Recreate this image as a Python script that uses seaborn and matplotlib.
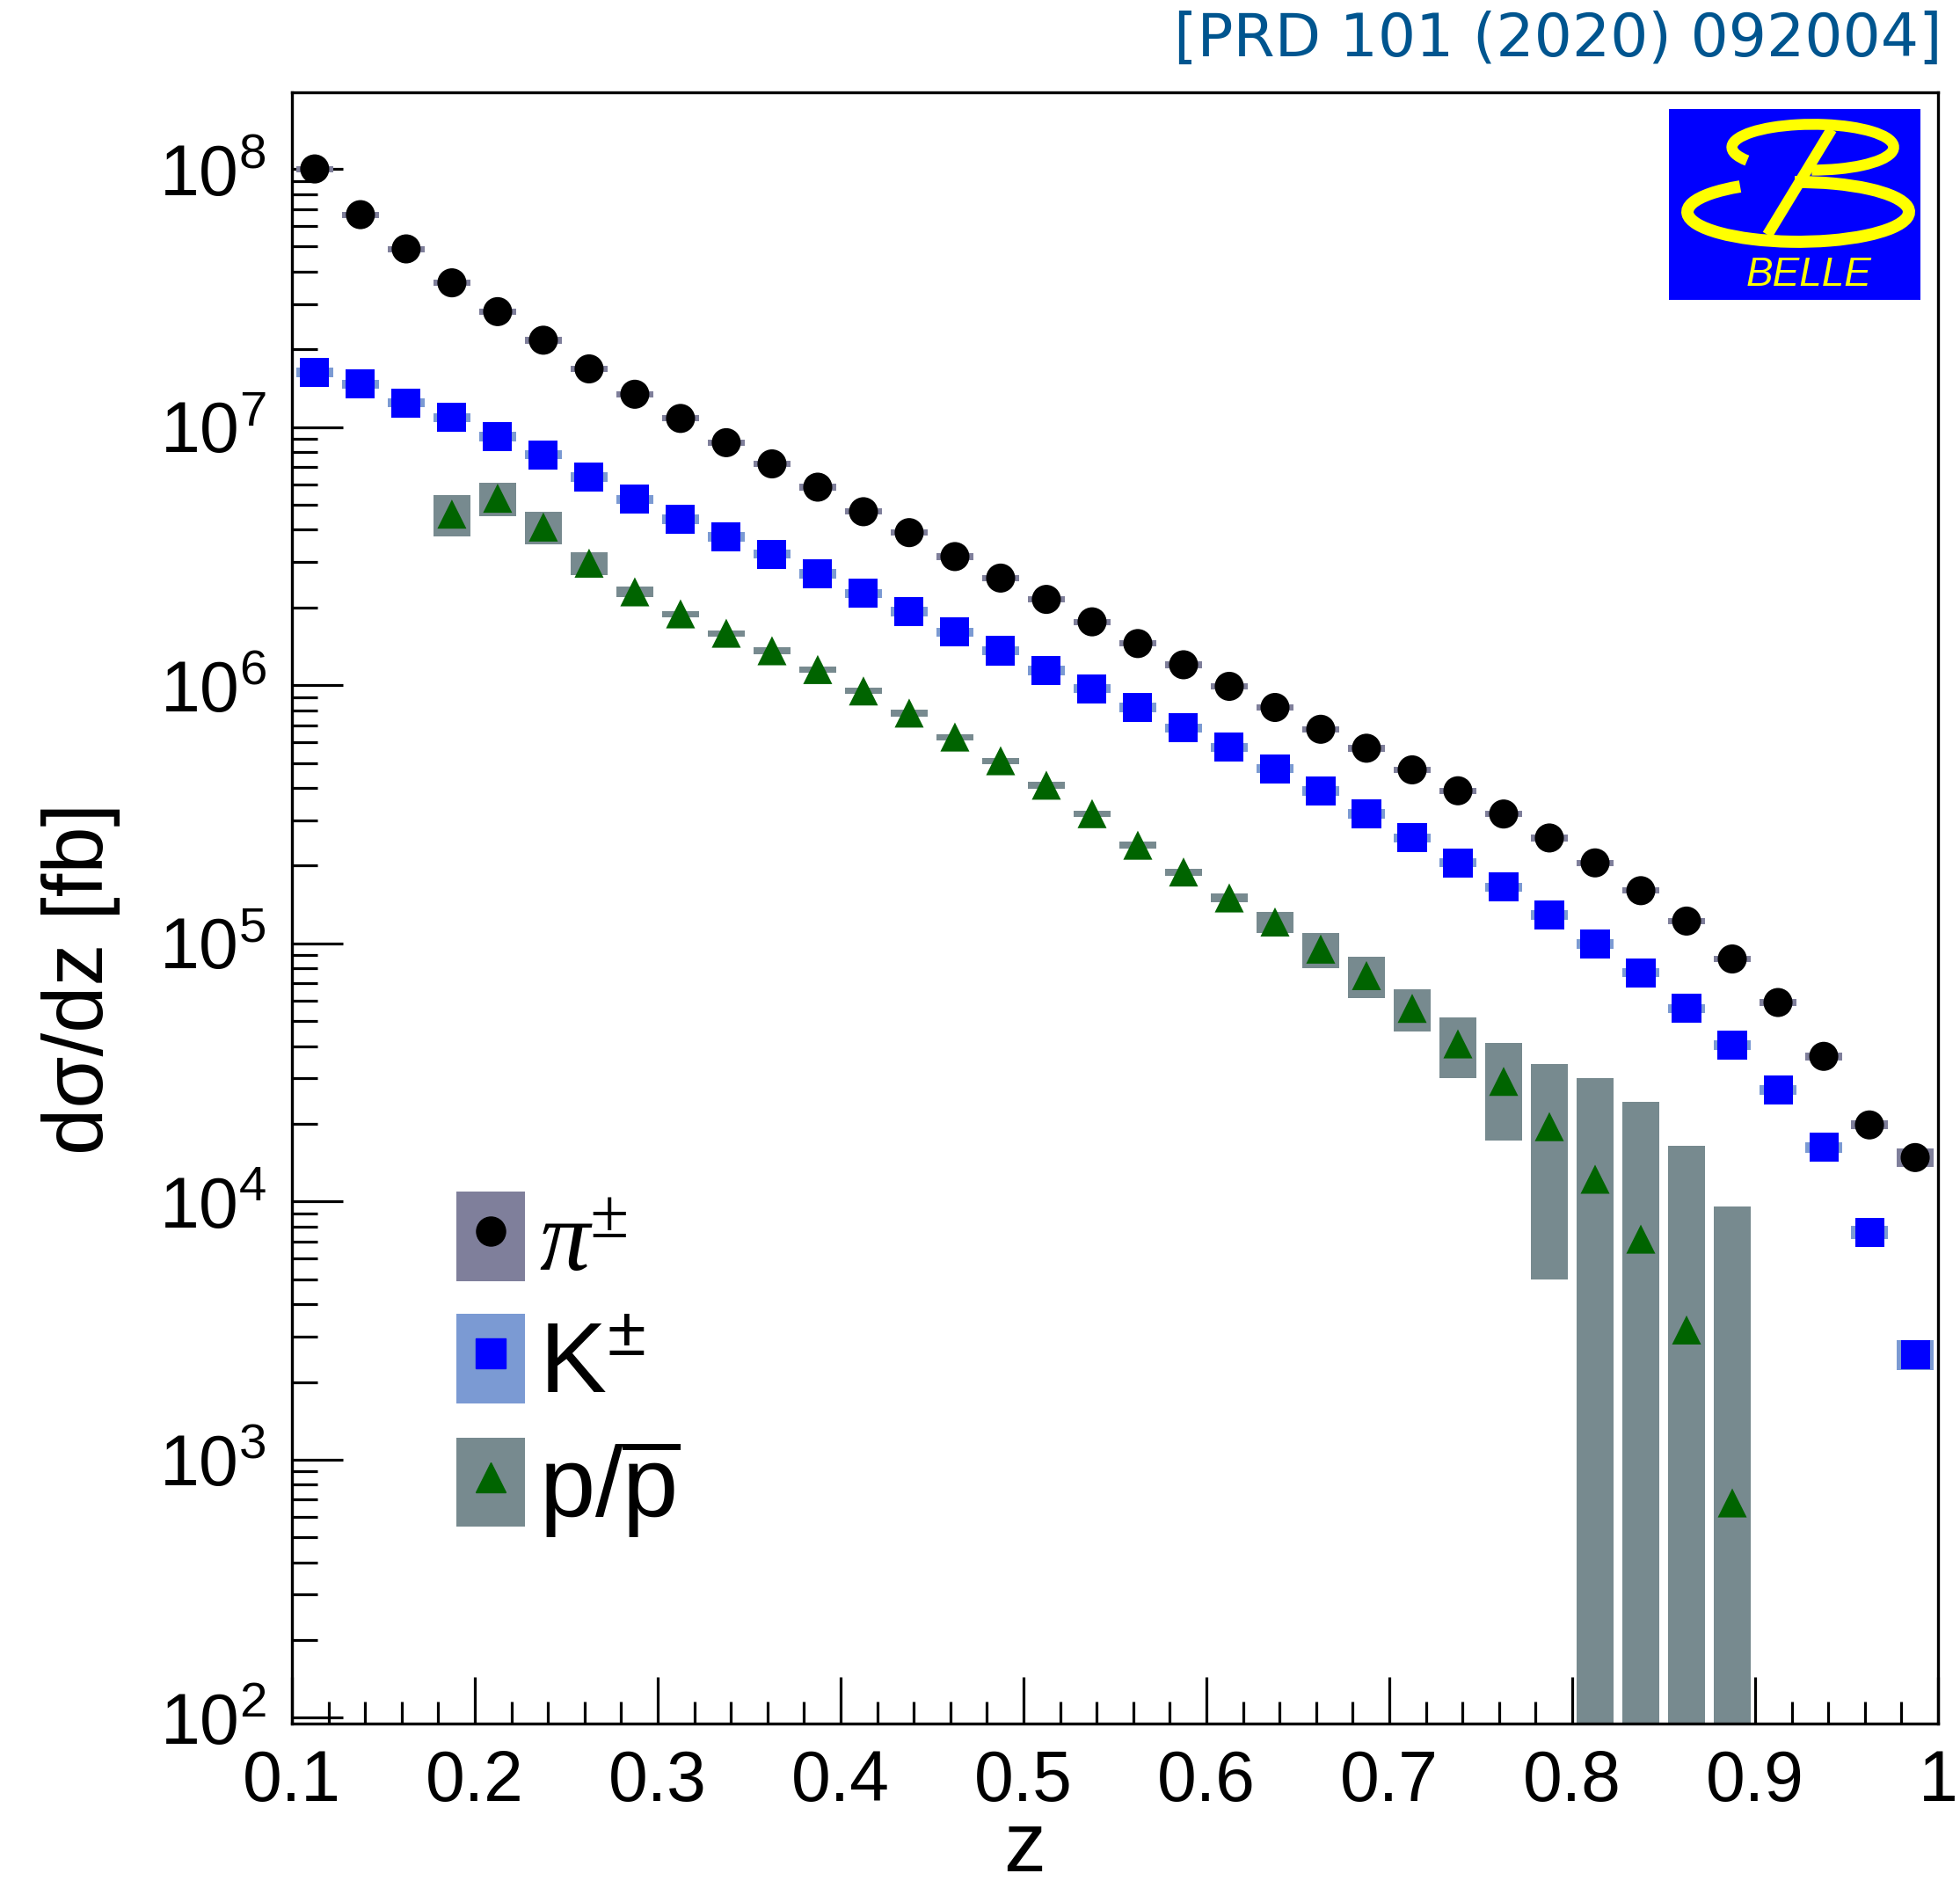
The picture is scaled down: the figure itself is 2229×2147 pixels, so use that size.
import numpy as np
import pandas as pd
import matplotlib
matplotlib.use('Agg')
import matplotlib.pyplot as plt
import seaborn as sns
from matplotlib.patches import Patch, Arc, Rectangle
from matplotlib.lines import Line2D
from matplotlib.legend_handler import HandlerTuple
from matplotlib.ticker import LogLocator, MultipleLocator, FuncFormatter, NullFormatter

# z bin centres
z_bins = [0.1125, 0.1375, 0.1625, 0.1875, 0.2125, 0.2375, 0.2625, 0.2875, 0.3125,
          0.3375, 0.3625, 0.3875, 0.4125, 0.4375, 0.4625, 0.4875, 0.5125, 0.5375,
          0.5625, 0.5875, 0.6125, 0.6375, 0.6625, 0.6875, 0.7125, 0.7375, 0.7625,
          0.7875, 0.8125, 0.8375, 0.8625, 0.8875, 0.9125, 0.9375, 0.9625, 0.9875]
z_proton = [0.1875, 0.2125, 0.2375, 0.2625, 0.2875, 0.3125, 0.3375, 0.3625, 0.3875,
            0.4125, 0.4375, 0.4625, 0.4875, 0.5125, 0.5375, 0.5625, 0.5875, 0.6125,
            0.6375, 0.6625, 0.6875, 0.7125, 0.7375, 0.7625, 0.7875, 0.8125, 0.8375,
            0.8625, 0.8875]

# d(sigma)/dz [fb]
pion = [1.0e8, 6.65e7, 4.9e7, 3.62e7, 2.8e7, 2.17e7, 1.68e7, 1.34e7, 1.08e7, 8.7e6,
        7.2e6, 5.85e6, 4.7e6, 3.9e6, 3.15e6, 2.6e6, 2.15e6, 1.76e6, 1.45e6, 1.2e6,
        9.9e5, 8.2e5, 6.75e5, 5.7e5, 4.7e5, 3.9e5, 3.17e5, 2.56e5, 2.05e5, 1.6e5,
        1.22e5, 8.7e4, 5.9e4, 3.65e4, 1.98e4, 1.48e4]
kaon = [1.63e7, 1.47e7, 1.24e7, 1.09e7, 9.2e6, 7.8e6, 6.4e6, 5.25e6, 4.4e6, 3.76e6,
        3.22e6, 2.7e6, 2.27e6, 1.93e6, 1.61e6, 1.36e6, 1.14e6, 9.7e5, 8.2e5, 6.85e5,
        5.75e5, 4.75e5, 3.9e5, 3.18e5, 2.56e5, 2.05e5, 1.65e5, 1.29e5, 9.95e4, 7.7e4,
        5.6e4, 4.04e4, 2.7e4, 1.62e4, 7.6e3, 2.56e3]
proton = [4.6e6, 5.3e6, 4.1e6, 2.97e6, 2.3e6, 1.89e6, 1.59e6, 1.36e6, 1.15e6, 9.5e5,
          7.8e5, 6.3e5, 5.1e5, 4.1e5, 3.18e5, 2.4e5, 1.89e5, 1.5e5, 1.21e5, 9.5e4,
          7.5e4, 5.6e4, 4.08e4, 2.92e4, 1.95e4, 1.22e4, 7.15e3, 3.18e3, 6.8e2]

# systematic uncertainties (absolute, symmetric)
pion_err = [2.8e6, 1.85e6, 1.37e6, 1.0e6, 7.8e5, 6.1e5, 4.7e5, 3.75e5, 3.0e5, 2.45e5,
            2.0e5, 1.65e5, 1.3e5, 1.1e5, 8.8e4, 7.3e4, 6.0e4, 4.9e4, 4.1e4, 3.4e4,
            2.8e4, 2.3e4, 1.9e4, 1.6e4, 1.3e4, 1.1e4, 8.9e3, 7.2e3, 5.8e3, 4.5e3,
            3.5e3, 2.5e3, 1.8e3, 1.2e3, 8.0e2, 1.2e3]
kaon_err = [6.5e5, 5.9e5, 5.0e5, 4.4e5, 3.7e5, 3.1e5, 2.6e5, 2.1e5, 1.8e5, 1.5e5,
            1.3e5, 1.1e5, 9.1e4, 7.7e4, 6.4e4, 5.4e4, 4.6e4, 3.9e4, 3.3e4, 2.7e4,
            2.3e4, 1.9e4, 1.6e4, 1.3e4, 1.0e4, 8.2e3, 6.6e3, 5.2e3, 4.0e3, 3.1e3,
            2.3e3, 1.7e3, 1.2e3, 8.0e2, 4.6e2, 3.4e2]
proton_err = [8.3e5, 8.0e5, 6.0e5, 3.0e5, 1.1e5, 5.3e4, 4.5e4, 3.8e4, 3.2e4, 2.7e4,
              2.2e4, 1.8e4, 1.4e4, 1.15e4, 9.0e3, 7.0e3, 6.0e3, 6.0e3, 1.1e4, 1.5e4,
              1.35e4, 1.05e4, 1.08e4, 1.2e4, 1.45e4, 1.78e4, 1.72e4, 1.32e4, 8.9e3]

labels = ['π$^{\\pm}$', 'K$^{\\pm}$', 'p/$\\overline{\\mathrm{p}}$']
box_colors = ['#7f7f9b', '#7b9ad3', '#778a8f']
marker_colors = ['#000000', '#0000ff', '#006400']
marker_shapes = ['o', 's', '^']

sns.set_style('white')
plt.rcParams['font.family'] = ['Liberation Sans', 'DejaVu Sans']
plt.rcParams['mathtext.fontset'] = 'custom'
plt.rcParams['mathtext.rm'] = 'Liberation Sans'
plt.rcParams['mathtext.it'] = 'Liberation Sans:italic'
plt.rcParams['mathtext.default'] = 'regular'
plt.rcParams['text.color'] = 'black'
plt.rcParams['axes.labelcolor'] = 'black'
plt.rcParams['xtick.color'] = 'black'
plt.rcParams['ytick.color'] = 'black'

fig = plt.figure(figsize=(22.29, 21.47), dpi=100)
ax = fig.add_axes([0.1489, 0.0871, 0.8399, 0.864])
ax.set_yscale('log')

# error boxes
series = [(z_bins, pion, pion_err), (z_bins, kaon, kaon_err), (z_proton, proton, proton_err)]
for (zz, vals, errs), col in zip(series, box_colors):
    vals = np.array(vals)
    errs = np.array(errs)
    lo = np.clip(vals - errs, 1, None)
    hi = vals + errs
    ax.bar(zz, hi - lo, bottom=lo, width=0.02, color=col, linewidth=0, zorder=2)

# markers
df = pd.concat([
    pd.DataFrame({'z': z_bins, 'val': pion, 'hadron': 'pi'}),
    pd.DataFrame({'z': z_bins, 'val': kaon, 'hadron': 'K'}),
    pd.DataFrame({'z': z_proton, 'val': proton, 'hadron': 'p'}),
])
sns.scatterplot(data=df, x='z', y='val', hue='hadron', style='hadron',
                palette=dict(zip(['pi', 'K', 'p'], marker_colors)),
                markers=dict(zip(['pi', 'K', 'p'], marker_shapes)),
                s=566, linewidth=0, legend=False, ax=ax, zorder=3)

ax.set_xlim(0.1, 1.0)
ax.set_ylim(95, 1.98e8)

ax.xaxis.set_major_locator(MultipleLocator(0.1))
ax.xaxis.set_minor_locator(MultipleLocator(0.02))
ax.xaxis.set_major_formatter(FuncFormatter(lambda v, p: f'{v:g}'))
ax.yaxis.set_major_locator(LogLocator(base=10, numticks=20))
ax.yaxis.set_minor_locator(LogLocator(base=10, subs=range(2, 10), numticks=20))
ax.yaxis.set_minor_formatter(NullFormatter())

ax.tick_params(axis='both', which='both', direction='in', bottom=True, left=True,
               top=False, right=False, width=2.3, colors='black', labelsize=58, pad=21)
ax.tick_params(axis='x', which='major', length=38)
ax.tick_params(axis='x', which='minor', length=18)
ax.tick_params(axis='y', which='major', length=42)
ax.tick_params(axis='y', which='minor', length=21)
for sp in ax.spines.values():
    sp.set_color('black')
    sp.set_linewidth(2.4)

ax.set_xlabel('z', fontsize=69)
ax.xaxis.set_label_coords(0.445, -0.0905)
ax.xaxis.label.set_verticalalignment('baseline')
ax.set_ylabel('dσ/dz [fb]', fontsize=69)
ax.yaxis.set_label_coords(-0.128, 0.4566)
ax.yaxis.label.set_verticalalignment('center')

# legend: coloured box with marker on top
handles = []
for bc, mc, mk in zip(box_colors, marker_colors, marker_shapes):
    handles.append((Patch(facecolor=bc, edgecolor='none'),
                    Line2D([], [], marker=mk, color=mc, markersize=23.8, linestyle='none')))
leg = ax.legend(handles, labels, handler_map={tuple: HandlerTuple(ndivide=1, pad=0)},
                loc='upper left', bbox_to_anchor=(0.0999, 0.326), frameon=False,
                fontsize=82, handlelength=0.685, handleheight=1.0, handletextpad=0.14,
                labelspacing=0.22, borderpad=0, borderaxespad=0)
leg.get_texts()[0].set_fontfamily(['Liberation Serif'])
leg.get_texts()[0].set_fontstyle('italic')

# reference tag
fig.text(0.991, 0.979, '[PRD 101 (2020) 092004]', ha='right', va='center',
         color='#00558f', fontsize=49, family=['DejaVu Sans'])

# Belle logo
lax = fig.add_axes([1898 / 2229, (2147 - 341) / 2147, 286 / 2229, 217 / 2147])
lax.set_axis_off()
lax.set_xlim(0, 1)
lax.set_ylim(0, 1)
lax.add_patch(Rectangle((0, 0), 1, 1, color='#0000ff'))
lax.add_patch(Arc((0.572, 0.80), 0.643, 0.24, theta1=268, theta2=195, color='#ffff00', linewidth=9))
lax.add_patch(Arc((0.514, 0.461), 0.881, 0.313, theta1=150, theta2=95, color='#ffff00', linewidth=10))
lax.plot([0.647, 0.392], [0.894, 0.341], color='#ffff00', linewidth=9, solid_capstyle='butt')
lax.text(0.556, 0.131, 'BELLE', style='italic', color='#ffff00', fontsize=33,
         ha='center', va='center')

fig.savefig('out.png', dpi=100)
